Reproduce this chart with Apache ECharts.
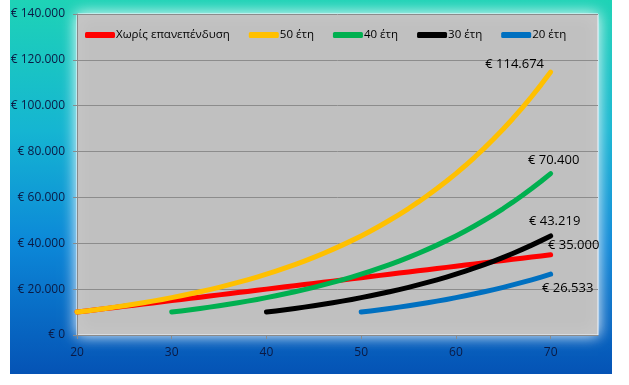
<!DOCTYPE html>
<html>
<head>
<meta charset="utf-8">
<script src="https://cdn.jsdelivr.net/npm/echarts@6/dist/echarts.min.js"></script>
<style>
html,body{margin:0;padding:0;background:#fff;}
#c{width:629px;height:385px;}
</style>
</head>
<body>
<div id="c"></div>
<script>
// Data
const seriesNames = ['Χωρίς επανεπένδυση', '50 έτη', '40 έτη', '30 έτη', '20 έτη'];
const seriesColors = ['#ff0000', '#ffc000', '#00b050', '#000000', '#0070c0'];
const seriesStartAge = [20, 20, 30, 40, 50];
const endLabels = ['€ 35.000', '€ 114.674', '€ 70.400', '€ 43.219', '€ 26.533'];

const noReinvest = [10000,10500,11000,11500,12000,12500,13000,13500,14000,14500,
  15000,15500,16000,16500,17000,17500,18000,18500,19000,19500,
  20000,20500,21000,21500,22000,22500,23000,23500,24000,24500,
  25000,25500,26000,26500,27000,27500,28000,28500,29000,29500,
  30000,30500,31000,31500,32000,32500,33000,33500,34000,34500,35000];
const years50 = [10000,10500,11025,11576,12155,12763,13401,14071,14775,15513,
  16289,17103,17959,18856,19799,20789,21829,22920,24066,25270,
  26533,27860,29253,30715,32251,33864,35557,37335,39201,41161,
  43219,45380,47649,50032,52533,55160,57918,60814,63855,67048,
  70400,73920,77616,81497,85572,89850,94343,99060,104013,109213,114674];
const years40 = [10000,10500,11025,11576,12155,12763,13401,14071,14775,15513,
  16289,17103,17959,18856,19799,20789,21829,22920,24066,25270,
  26533,27860,29253,30715,32251,33864,35557,37335,39201,41161,
  43219,45380,47649,50032,52533,55160,57918,60814,63855,67048,70400];
const years30 = [10000,10500,11025,11576,12155,12763,13401,14071,14775,15513,
  16289,17103,17959,18856,19799,20789,21829,22920,24066,25270,
  26533,27860,29253,30715,32251,33864,35557,37335,39201,41161,43219];
const years20 = [10000,10500,11025,11576,12155,12763,13401,14071,14775,15513,
  16289,17103,17959,18856,19799,20789,21829,22920,24066,25270,26533];
const allValues = [noReinvest, years50, years40, years30, years20];

const xTicks = [20, 30, 40, 50, 60, 70];

// Label placement (style only): [dx, dy] of label centre from end point
const labelOffsets = [[23, -9], [-36, -8], [3, -13], [4, -15], [17, 14]];

const FONT = '"Open Sans", "Noto Sans", sans-serif';

function fmt(v) {
  return '€ ' + String(Math.round(v)).replace(/\B(?=(\d{3})+(?!\d))/g, '.');
}

const series = allValues.map((vals, i) => {
  const data = vals.map((v, k) => {
    const pt = { value: [seriesStartAge[i] + k, v] };
    if (k === vals.length - 1) {
      pt.label = {
        show: true,
        position: 'inside',
        align: 'center',
        verticalAlign: 'middle',
        offset: labelOffsets[i],
        formatter: endLabels[i],
        color: '#000',
        fontSize: 13,
        fontFamily: FONT
      };
    }
    return pt;
  });
  return {
    name: seriesNames[i],
    type: 'line',
    data: data,
    showSymbol: true,
    showAllSymbol: true,
    symbol: 'circle',
    symbolSize: 2,
    smooth: false,
    lineStyle: { color: seriesColors[i], width: 5, cap: 'round', join: 'round' },
    itemStyle: { color: seriesColors[i] },
    label: { show: false },
    z: 3 + i,
    animation: false
  };
});

const chart = echarts.init(document.getElementById('c'), null, { renderer: 'canvas' });
chart.setOption({
  animation: false,
  backgroundColor: 'transparent',
  graphic: {
    z: -100,
    elements: [{
      type: 'rect',
      z: -100,
      shape: { x: 10, y: 0, width: 602, height: 374 },
      style: {
        fill: new echarts.graphic.LinearGradient(0, 0, 0, 1, [
          { offset: 0, color: '#1ed3b6' },
          { offset: 0.35, color: '#15b5d2' },
          { offset: 0.65, color: '#0c88d8' },
          { offset: 1, color: '#0553b5' }
        ])
      }
    }]
  },
  grid: {
    show: true,
    left: 77, right: 31, top: 14, bottom: 50,
    backgroundColor: '#c0c0c0',
    borderColor: '#eef6ff',
    borderWidth: 1,
    shadowColor: 'rgba(255,255,255,1)',
    shadowBlur: 14
  },
  legend: {
    left: 80, top: 24,
    itemWidth: 30, itemHeight: 6,
    itemGap: 19,
    icon: 'roundRect',
    textStyle: { fontFamily: FONT, fontSize: 11.5, color: '#000', padding: [0, 0, 0, -4] },
    data: seriesNames
  },
  xAxis: {
    type: 'value',
    min: 20, max: 75, interval: 10,
    axisLine: { lineStyle: { color: '#8a8a8a' } },
    axisTick: { show: true, length: 4, lineStyle: { color: '#8a8a8a' }, customValues: xTicks },
    axisLabel: { color: '#0b1a44', fontSize: 12, fontFamily: FONT, margin: 12, customValues: xTicks },
    splitLine: { show: false }
  },
  yAxis: {
    type: 'value',
    min: 0, max: 140000, interval: 20000,
    axisLine: { show: true, lineStyle: { color: '#8a8a8a' } },
    axisTick: { show: true, length: 4, lineStyle: { color: '#8a8a8a' } },
    axisLabel: { color: '#0b1a44', fontSize: 12, fontFamily: FONT, margin: 12, formatter: fmt },
    splitLine: { show: true, lineStyle: { color: '#8c8c8c', width: 1 } }
  },
  series: series
});
</script>
</body>
</html>
